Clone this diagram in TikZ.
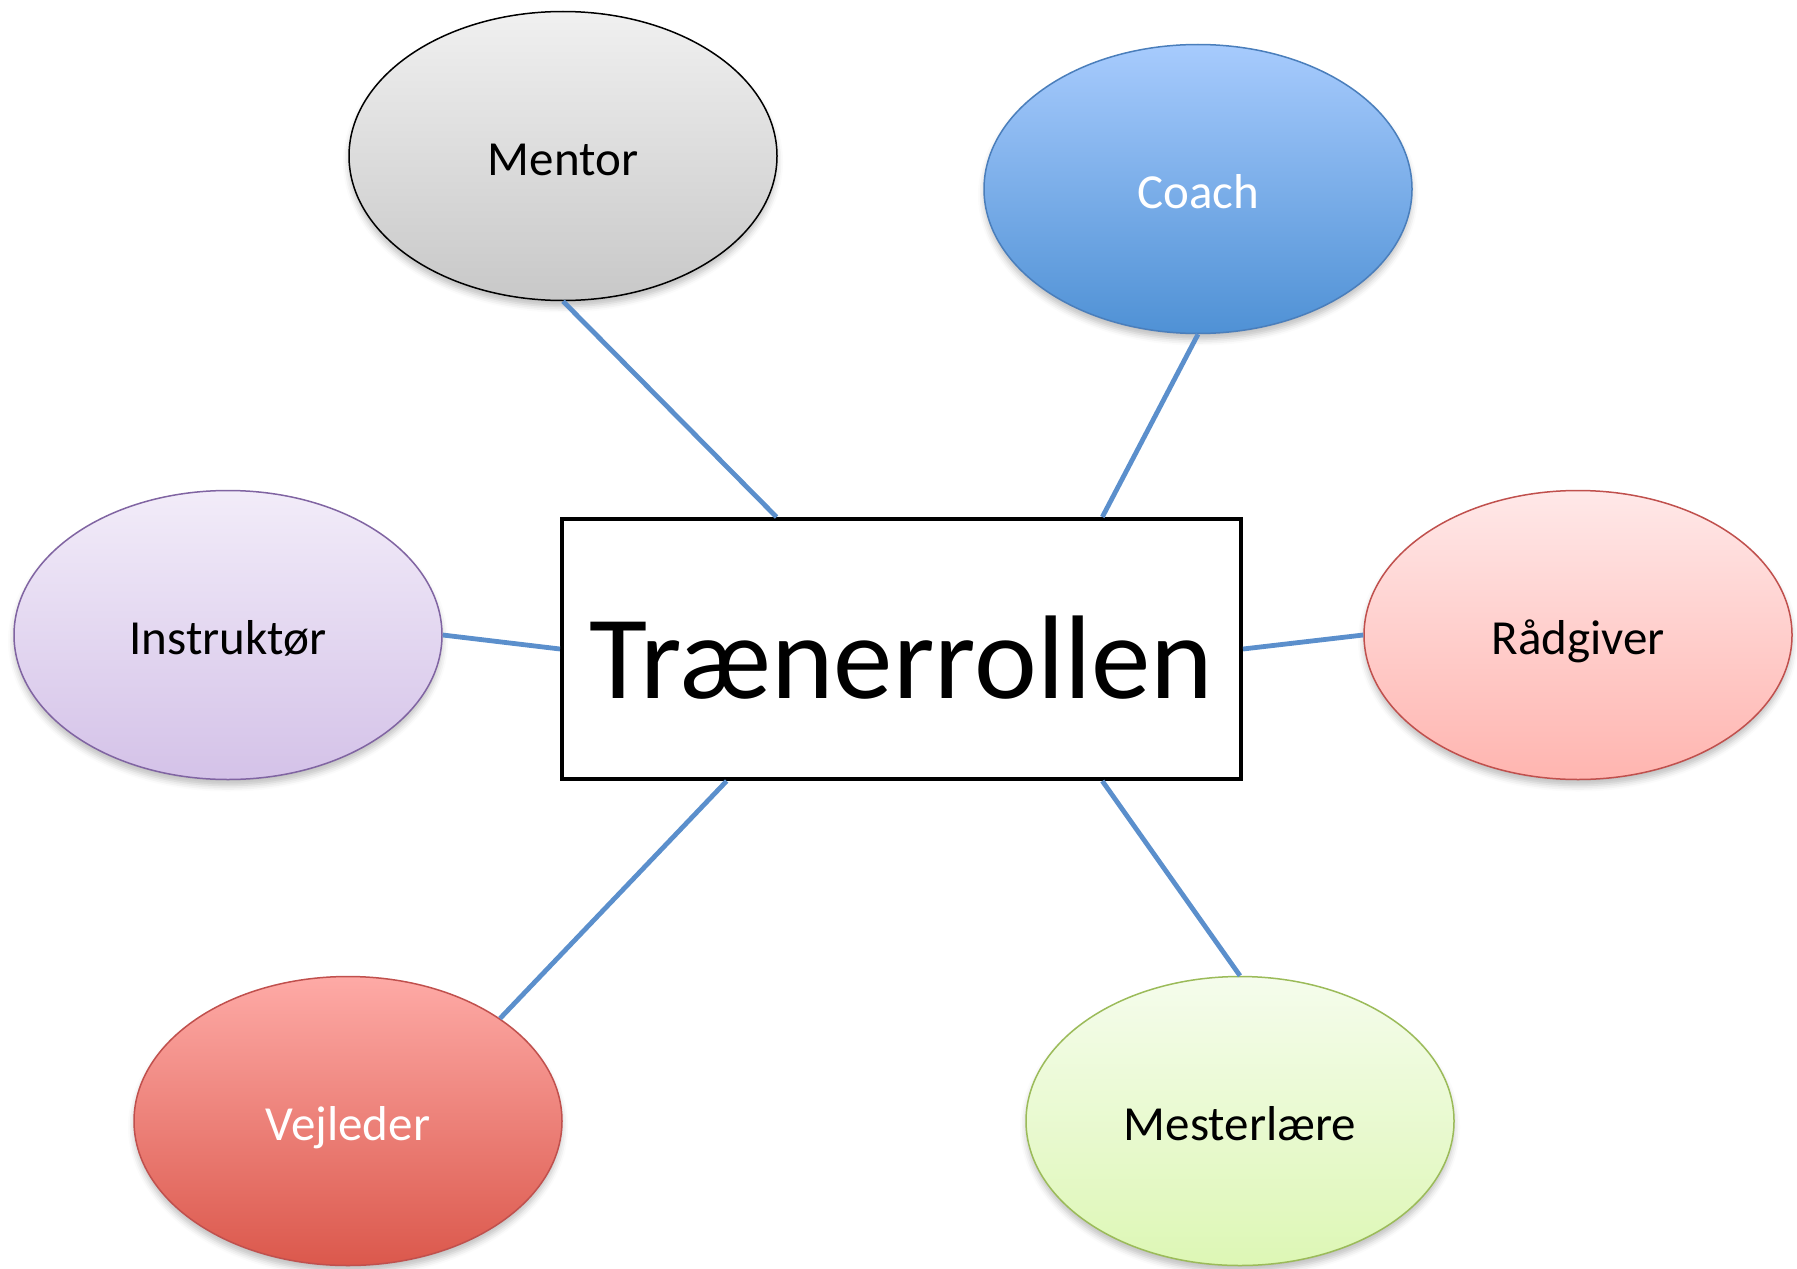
\documentclass[tikz,border=0pt]{standalone}
\usepackage{fontspec}
\setmainfont{Carlito}
\usetikzlibrary{shapes.geometric,shadows.blur,calc}

\definecolor{linkblue}{HTML}{5B8FCC}
\definecolor{mentorTop}{HTML}{F0F0F0}
\definecolor{mentorBot}{HTML}{C8C8C8}
\definecolor{coachTop}{HTML}{A7CBFD}
\definecolor{coachBot}{HTML}{4F91D5}
\definecolor{coachLine}{HTML}{4A7EBB}
\definecolor{instrTop}{HTML}{F2ECF9}
\definecolor{instrBot}{HTML}{D4C2E8}
\definecolor{instrLine}{HTML}{8064A2}
\definecolor{raadTop}{HTML}{FFE8E8}
\definecolor{raadBot}{HTML}{FFB5B0}
\definecolor{redLine}{HTML}{C0504D}
\definecolor{vejTop}{HTML}{FEAAA6}
\definecolor{vejBot}{HTML}{DB584C}
\definecolor{mestTop}{HTML}{F5FCEC}
\definecolor{mestBot}{HTML}{DDF7B5}
\definecolor{mestLine}{HTML}{9BBB59}

\tikzset{
  role/.style={ellipse, inner sep=0pt, minimum width=214pt, minimum height=144.5pt,
    font=\fontsize{24.5}{28}\selectfont, line width=0.75pt,
    text height=19.4pt, text depth=0pt,
    blur shadow={shadow xshift=0pt, shadow yshift=-3pt, shadow blur radius=3pt, shadow opacity=25}},
  link/.style={draw=linkblue, line width=2.4pt},
  centerbox/.style={draw=black, line width=2pt, fill=white, minimum width=339.5pt,
    minimum height=130pt, inner sep=0pt, font=\fontsize{59.5}{64}\selectfont,
    text height=49pt, text depth=0pt}
}

\begin{document}
\begin{tikzpicture}[x=0.5pt, y=-0.5pt]
\useasboundingbox (0,0) rectangle (1797,1268);

% central box
\node[centerbox] (box) at (901.5,649) {Trænerrollen};

% surrounding roles
\node[role, draw=black, top color=mentorTop, bottom color=mentorBot] (mentor) at (563,156) {Mentor};
\node[role, draw=coachLine, top color=coachTop, bottom color=coachBot, text=white] (coach) at (1198,189) {Coach};
\node[role, draw=instrLine, top color=instrTop, bottom color=instrBot] (instr) at (228,635) {Instruktør};
\node[role, draw=redLine, top color=raadTop, bottom color=raadBot] (raad) at (1578,635) {Rådgiver};
\node[role, draw=redLine, top color=vejTop, bottom color=vejBot, text=white] (vej) at (348,1121) {Vejleder};
\node[role, draw=mestLine, top color=mestTop, bottom color=mestBot] (mest) at (1240,1121) {Mesterlære};

% connectors
\draw[link] (mentor.south) -- ($(box.north west)!0.317!(box.north east)$);
\draw[link] (coach.south) -- ($(box.north west)!0.794!(box.north east)$);
\draw[link] (instr.east) -- (box.west);
\draw[link] (raad.west) -- (box.east);
\draw[link] (vej.34.5) -- ($(box.south west)!0.244!(box.south east)$);
\draw[link] (mest.north) -- ($(box.south west)!0.794!(box.south east)$);
\end{tikzpicture}
\end{document}
